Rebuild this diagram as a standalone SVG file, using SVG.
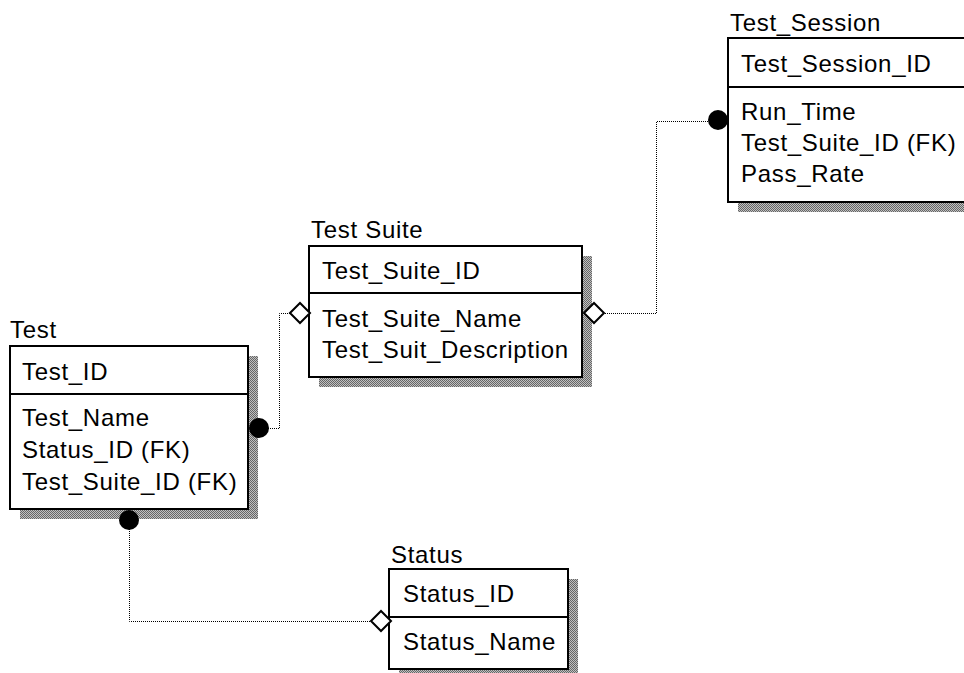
<svg xmlns="http://www.w3.org/2000/svg" width="964" height="673" viewBox="0 0 964 673">
  <defs>
    <!-- dithered drop-shadow fill -->
    <pattern id="dither" width="2" height="2" patternUnits="userSpaceOnUse">
      <rect x="0" y="0" width="2" height="2" fill="#c0c0c0"/>
      <rect x="0" y="0" width="1" height="1" fill="#666"/>
      <rect x="1" y="1" width="1" height="1" fill="#666"/>
    </pattern>
  </defs>
  <style>
    text { font-family: "Liberation Sans", Arial, sans-serif; font-size: 24px; letter-spacing: 0.7px; fill: #000; }
    .shadow { fill: url(#dither); stroke: none; }
    .box { fill: #fff; stroke: #000; stroke-width: 2; }
    .div { stroke: #000; stroke-width: 2; }
    .rel { fill: none; stroke: #000; stroke-width: 1; stroke-dasharray: 1 1; }
    .dot { fill: #000; }
    .dia { fill: #fff; stroke: #000; stroke-width: 2; }
  </style>
  <rect width="964" height="673" fill="#fff"/>

  <!-- Entities -->
  <g id="test">
    <rect class="shadow" x="20" y="356" width="238" height="163"/>
    <rect class="box" x="10" y="346" width="238" height="163"/>
    <line class="div" x1="10" y1="394" x2="248" y2="394"/>
    <text x="10" y="338">Test</text>
    <text x="22" y="380">Test_ID</text>
    <text x="22" y="426">Test_Name</text>
    <text x="22" y="458">Status_ID (FK)</text>
    <text x="22" y="490">Test_Suite_ID (FK)</text>
  </g>

  <g id="test-suite">
    <rect class="shadow" x="319" y="256" width="273" height="131"/>
    <rect class="box" x="309" y="246" width="273" height="131"/>
    <line class="div" x1="309" y1="293" x2="582" y2="293"/>
    <text x="311" y="238">Test Suite</text>
    <text x="322" y="279">Test_Suite_ID</text>
    <text x="322" y="327">Test_Suite_Name</text>
    <text x="322" y="358">Test_Suit_Description</text>
  </g>

  <g id="test-session">
    <rect class="shadow" x="738" y="48" width="240" height="164"/>
    <rect class="box" x="728" y="38" width="240" height="164"/>
    <line class="div" x1="728" y1="87" x2="968" y2="87"/>
    <text x="730" y="31">Test_Session</text>
    <text x="741" y="72">Test_Session_ID</text>
    <text x="741" y="120">Run_Time</text>
    <text x="741" y="151">Test_Suite_ID (FK)</text>
    <text x="741" y="182">Pass_Rate</text>
  </g>

  <g id="status">
    <rect class="shadow" x="399" y="579" width="179" height="100"/>
    <rect class="box" x="389" y="569" width="179" height="100"/>
    <line class="div" x1="389" y1="617" x2="568" y2="617"/>
    <text x="391" y="563">Status</text>
    <text x="403" y="602">Status_ID</text>
    <text x="403" y="650">Status_Name</text>
  </g>

  <!-- Relationships -->
  <g id="connectors">
    <!-- Test Suite 1 : n Test -->
    <polyline class="rel" points="260,428.5 279.5,428.5 279.5,313.5 291,313.5"/>
    <circle class="dot" cx="259" cy="428" r="10"/>
    <polygon class="dia" points="290,313 300,303 310,313 300,323"/>

    <!-- Status 1 : n Test -->
    <polyline class="rel" points="129.5,521 129.5,621.5 372,621.5"/>
    <circle class="dot" cx="129" cy="520" r="10"/>
    <polygon class="dia" points="371,621 381,611 391,621 381,631"/>

    <!-- Test Suite 1 : n Test_Session -->
    <polyline class="rel" points="603,313.5 656.5,313.5 656.5,121.5 718,121.5"/>
    <polygon class="dia" points="584,313 594,303 604,313 594,323"/>
    <circle class="dot" cx="718" cy="120" r="10"/>
  </g>
</svg>
